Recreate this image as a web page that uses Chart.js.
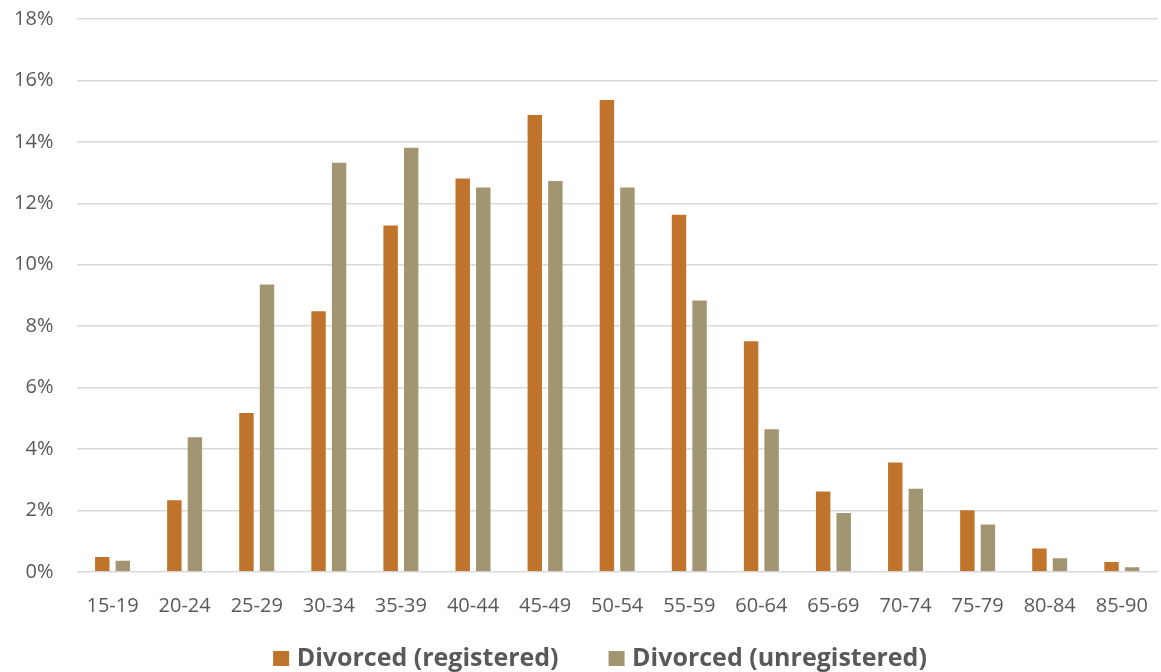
<!DOCTYPE html>
<html>
<head>
<meta charset="utf-8">
<script src="https://cdn.jsdelivr.net/npm/chart.js@4.4.1/dist/chart.umd.min.js"></script>
<style>
  html, body { margin: 0; padding: 0; background: #fff; width: 1161px; height: 672px; overflow: hidden; }
  #wrap { position: absolute; left: 0; top: 0; width: 1170px; height: 672px; }
</style>
</head>
<body>
<div id="wrap"><canvas id="c" width="1170" height="672"></canvas></div>
<script>
// Share of divorced people by age group (%)
const ageGroups = ['15-19', '20-24', '25-29', '30-34', '35-39', '40-44', '45-49', '50-54',
                   '55-59', '60-64', '65-69', '70-74', '75-79', '80-84', '85-90'];
const registered   = [0.52, 2.37, 5.21, 8.52, 11.31, 12.84, 14.91, 15.40, 11.66, 7.54, 2.65, 3.60, 2.04, 0.80, 0.36];
const unregistered = [0.40, 4.42, 9.39, 13.35, 13.84, 12.55, 12.76, 12.55, 8.87, 4.68, 1.95, 2.74, 1.58, 0.48, 0.19];
const seriesNames  = ['Divorced (registered)', 'Divorced (unregistered)'];
const yTickMax = 18;
const yTickStep = 2;

const textColor = '#595959';
const fontFamily = '"Open Sans", "DejaVu Sans", sans-serif';

// Legend row drawn under the axis labels
const bottomLegend = {
  id: 'bottomLegend',
  afterDraw(chart, args, opts) {
    const ctx = chart.ctx;
    ctx.save();
    ctx.font = 'bold 25px ' + fontFamily;
    const items = chart.data.datasets.map(d => ({
      label: d.label, color: d.backgroundColor, w: ctx.measureText(d.label).width
    }));
    const box = 16, gap = 7.5, itemGap = 50;
    const total = items.reduce((s, it) => s + box + gap + it.w, 0) + itemGap * (items.length - 1);
    let x = opts.centerX - total / 2;
    ctx.textBaseline = 'alphabetic';
    ctx.textAlign = 'left';
    items.forEach(it => {
      ctx.fillStyle = it.color;
      ctx.fillRect(x, opts.baseline - 15, box, 15);
      x += box + gap;
      ctx.fillStyle = textColor;
      ctx.fillText(it.label, x, opts.baseline);
      x += it.w + itemGap;
    });
    ctx.restore();
  }
};

function draw() {
  new Chart(document.getElementById('c'), {
    type: 'bar',
    data: {
      labels: ageGroups,
      datasets: [
        { label: seriesNames[0], data: registered, backgroundColor: '#C0742B',
          borderColor: 'rgba(255,255,255,0.3)', borderWidth: 1 },
        { label: seriesNames[1], data: unregistered, backgroundColor: '#A19572',
          borderColor: 'rgba(255,255,255,0.3)', borderWidth: 1 }
      ]
    },
    options: {
      responsive: false,
      animation: false,
      devicePixelRatio: 1,
      categoryPercentage: 0.57,
      barPercentage: 0.8,
      layout: { padding: { top: 19, left: 0, right: 3, bottom: 60 } },
      plugins: {
        legend: { display: false },
        tooltip: { enabled: false },
        bottomLegend: { centerX: 600, baseline: 666 }
      },
      scales: {
        x: {
          grid: { display: false, drawTicks: false },
          border: { display: false },
          ticks: { color: textColor, font: { family: fontFamily, size: 20 }, padding: 22, maxRotation: 0, autoSkip: false },
          afterFit: s => { s.height = 40; }
        },
        y: {
          min: 0, max: yTickMax,
          grid: { color: '#D9D9D9', lineWidth: 1.5, drawTicks: false },
          border: { display: false },
          ticks: { stepSize: yTickStep, color: textColor, font: { family: fontFamily, size: 20 }, padding: 23,
                   callback: v => v + '%' },
          afterFit: s => { s.width = 76.5; s.paddingTop = 0; s.paddingBottom = 0; }
        }
      }
    },
    plugins: [bottomLegend]
  });
}

Promise.all([
  document.fonts.load('20px "Open Sans"'),
  document.fonts.load('bold 25px "Open Sans"')
]).then(draw, draw);
</script>
</body>
</html>
